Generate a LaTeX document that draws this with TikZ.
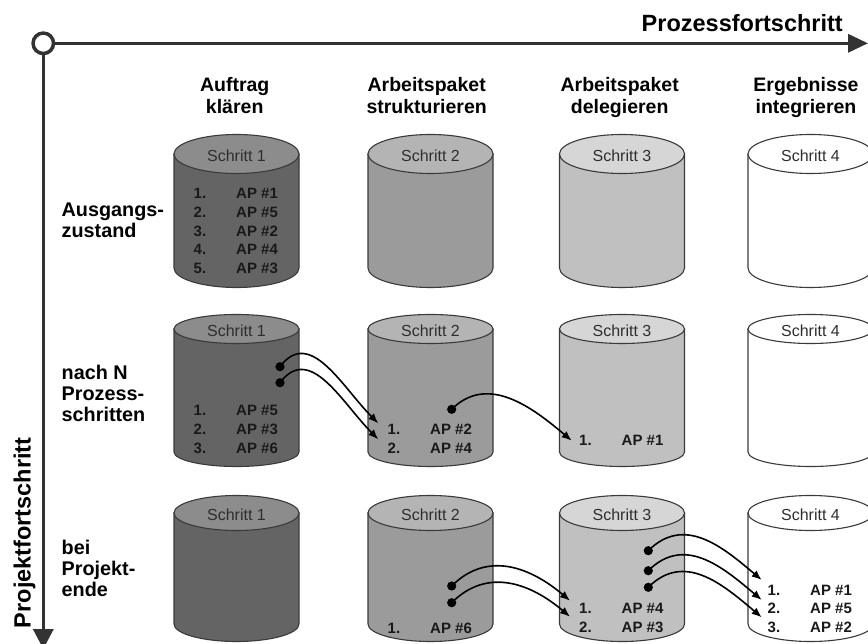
\documentclass[tikz,border=0pt]{standalone}
\usepackage{fontspec}
\setmainfont{Liberation Sans}
\usetikzlibrary{arrows.meta}
\definecolor{axc}{HTML}{333333}
\definecolor{olc}{HTML}{3A3A3A}
\definecolor{labc}{HTML}{2E2E2E}
\definecolor{cAbody}{HTML}{646464}
\definecolor{cAtop}{HTML}{8C8C8C}
\definecolor{cBbody}{HTML}{9B9B9B}
\definecolor{cBtop}{HTML}{B4B4B4}
\definecolor{cCbody}{HTML}{C0C0C0}
\definecolor{cCtop}{HTML}{D6D6D6}
\definecolor{cDbody}{HTML}{FFFFFF}
\definecolor{cDtop}{HTML}{FFFFFF}
% #1 cx, #2 top centre y, #3 bottom centre y, #4 ry, #5 body, #6 top, #7 node name, #8 label
\newcommand{\drawcyl}[8]{%
  \filldraw[cylline, fill=#5] (#1-62.5,#2) -- (#1-62.5,#3)
    arc[start angle=180, end angle=360, x radius=62.5pt, y radius=#4pt] -- (#1+62.5,#2) -- cycle;
  \filldraw[cylline, fill=#6] (#1,#2) ellipse[x radius=62.5pt, y radius=#4pt];
  \node[steplab] (#7) at (#1,#2+1.5) {#8};
}
% #1 name, #2 cx, #3 y, #4 number, #5 AP text
\newcommand{\apitem}[5]{%
  \node[numlab] (#1n) at (#2-43,#3) {#4};
  \node[aplab] (#1a) at (#2-0.5,#3) {#5};
}
\begin{document}
\begin{tikzpicture}[x=1pt,y=-1pt,
  ax/.style={line width=3.5pt, draw=axc},
  cylline/.style={draw=olc, line width=1.1pt},
  steplab/.style={font=\fontsize{16}{18}\selectfont, text=labc, inner sep=0pt},
  numlab/.style={font=\fontsize{15}{17}\selectfont\bfseries, anchor=west, inner sep=0pt, text=black!90},
  aplab/.style={font=\fontsize{15}{17}\selectfont\bfseries, anchor=west, inner sep=0pt, text=black!90},
  hdr/.style={font=\fontsize{19.5}{21.6}\selectfont\bfseries, align=center, anchor=base, inner sep=0pt},
  rowlab/.style={font=\fontsize{19.8}{21}\selectfont\bfseries, align=left, anchor=base west, inner sep=0pt},
  axlab/.style={font=\fontsize{23.5}{26}\selectfont\bfseries, inner sep=0pt},
  conn/.style={line width=1.6pt, draw=black, -{Latex[length=10pt,width=8pt]}},
  dotc/.style={fill=black}
]
\useasboundingbox (0,0) rectangle (868,644);
\clip (0,0) rectangle (868,644);

% axes
\node[circle, draw=axc, line width=3.5pt, fill=white, minimum size=20.5pt, inner sep=0pt] (o) at (43.3,43.3) {};
\coordinate (xend) at (868,43.3);
\coordinate (yend) at (43.3,649);
\draw[ax, -{Triangle[length=20pt,width=18pt]}] (o.east) -- (xend);
\draw[ax, -{Triangle[length=20pt,width=20pt]}] (o.south) -- (yend);
\node[axlab, anchor=base east] (xlab) at (843,31.7) {Prozessfortschritt};
\node[axlab, rotate=90, anchor=base west] (ylab) at (30.7,628.3) {Projektfortschritt};

% column headers (anchor = baseline of the last line)
\node[hdr] (h1) at (234.7,113.3) {Auftrag\\klären};
\node[hdr] (h2) at (426.7,113.3) {Arbeitspaket\\strukturieren};
\node[hdr] (h3) at (619.7,113.3) {Arbeitspaket\\delegieren};
\node[hdr] (h4) at (806,113.3) {Ergebnisse\\integrieren};

% row labels (anchor = baseline of the last line)
\node[rowlab] (r1) at (61.5,238) {Ausgangs-\\zustand};
\node[rowlab] (r2) at (61.5,421.7) {nach N\\Prozess-\\schritten};
\node[rowlab] (r3) at (61.5,596.5) {bei\\Projekt-\\ende};

% row 1 cylinders
\drawcyl{236.5}{154}{268}{19.5}{cAbody}{cAtop}{s11}{Schritt 1}
\drawcyl{430.5}{154}{268}{19.5}{cBbody}{cBtop}{s12}{Schritt 2}
\drawcyl{622}{154}{268}{19.5}{cCbody}{cCtop}{s13}{Schritt 3}
\drawcyl{810.5}{154}{268}{19.5}{cDbody}{cDtop}{s14}{Schritt 4}
% row 2 cylinders
\drawcyl{236.5}{329}{452}{14.5}{cAbody}{cAtop}{s21}{Schritt 1}
\drawcyl{430.5}{329}{452}{14.5}{cBbody}{cBtop}{s22}{Schritt 2}
\drawcyl{622}{329}{452}{14.5}{cCbody}{cCtop}{s23}{Schritt 3}
\drawcyl{810.5}{329}{452}{14.5}{cDbody}{cDtop}{s24}{Schritt 4}
% row 3 cylinders
\drawcyl{236.5}{513}{624}{17.5}{cAbody}{cAtop}{s31}{Schritt 1}
\drawcyl{430.5}{513}{624}{17.5}{cBbody}{cBtop}{s32}{Schritt 2}
\drawcyl{622}{513}{624}{17.5}{cCbody}{cCtop}{s33}{Schritt 3}
\drawcyl{810.5}{513}{624}{17.5}{cDbody}{cDtop}{s34}{Schritt 4}

% row 1 lists
\apitem{a111}{236.5}{193.5}{1.}{AP \#1}
\apitem{a112}{236.5}{212.2}{2.}{AP \#5}
\apitem{a113}{236.5}{230.9}{3.}{AP \#2}
\apitem{a114}{236.5}{249.6}{4.}{AP \#4}
\apitem{a115}{236.5}{268.3}{5.}{AP \#3}
% row 2 lists
\apitem{a211}{236.5}{410}{1.}{AP \#5}
\apitem{a212}{236.5}{429}{2.}{AP \#3}
\apitem{a213}{236.5}{448}{3.}{AP \#6}
\apitem{a221}{430.5}{429.5}{1.}{AP \#2}
\apitem{a222}{430.5}{448}{2.}{AP \#4}
\apitem{a231}{622}{440.7}{1.}{AP \#1}
% row 3 lists
\apitem{a321}{430.5}{628.5}{1.}{AP \#6}
\apitem{a331}{622}{608}{1.}{AP \#4}
\apitem{a332}{622}{627.5}{2.}{AP \#3}
\apitem{a341}{810.5}{590}{1.}{AP \#1}
\apitem{a342}{810.5}{608.5}{2.}{AP \#5}
\apitem{a343}{810.5}{627.3}{3.}{AP \#2}

% dots and arrow targets
\coordinate (d21a) at (280,366.7);
\coordinate (d21b) at (280,382.7);
\coordinate (t22a) at (378.3,423.3);
\coordinate (t22b) at (378.3,439.3);
\coordinate (d22a) at (451.7,409.3);
\coordinate (t23a) at (571.7,440.7);
\coordinate (d32a) at (451.7,586);
\coordinate (d32b) at (451.7,602.7);
\coordinate (t33a) at (570,600.7);
\coordinate (t33b) at (570,616.7);
\coordinate (d33a) at (648.3,550.7);
\coordinate (d33b) at (648.3,570.7);
\coordinate (d33c) at (648.3,587.3);
\coordinate (t34a) at (761.7,580);
\coordinate (t34b) at (761.7,600);
\coordinate (t34c) at (761.7,617.3);

\draw[conn] (d21a) .. controls +(30,-40) and +(-36,-36) .. (t22a);
\draw[conn] (d21b) .. controls +(30,-40) and +(-36,-36) .. (t22b);
\draw[conn] (d22a) .. controls +(36,-36) and +(-39,-33) .. (t23a);
\draw[conn] (d32a) .. controls +(36,-36) and +(-39,-33) .. (t33a);
\draw[conn] (d32b) .. controls +(36,-36) and +(-39,-33) .. (t33b);
\draw[conn] (d33a) .. controls +(36,-36) and +(-39,-33) .. (t34a);
\draw[conn] (d33b) .. controls +(36,-36) and +(-39,-33) .. (t34b);
\draw[conn] (d33c) .. controls +(36,-36) and +(-39,-33) .. (t34c);

\foreach \d in {d21a,d21b,d22a,d32a,d32b,d33a,d33b,d33c}
  \fill[dotc] (\d) circle[radius=4.6pt];
\end{tikzpicture}
\end{document}
